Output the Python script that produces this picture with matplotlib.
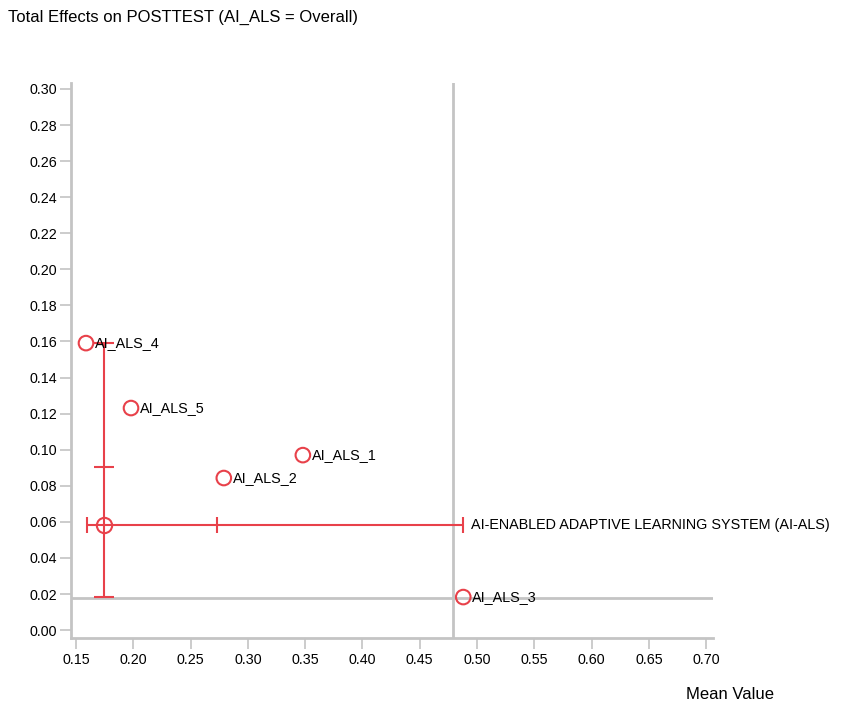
import matplotlib.pyplot as plt
import numpy as np

plt.rcParams['font.family'] = ['Liberation Sans', 'DejaVu Sans']

# indicator importance (x = mean value, y = total effect)
labels = ['AI_ALS_1', 'AI_ALS_2', 'AI_ALS_3', 'AI_ALS_4', 'AI_ALS_5']
mean_vals = [0.348, 0.279, 0.488, 0.1587, 0.198]
effects = [0.097, 0.0843, 0.0183, 0.1591, 0.1231]

# construct summary
construct = 'AI-ENABLED ADAPTIVE LEARNING SYSTEM (AI-ALS)'
c_x, c_y = 0.1744, 0.0582
x_range = [0.1596, 0.488]
x_mid = 0.273
y_range = [0.0183, 0.159]
y_mid = 0.0904

# reference lines
ref_x = 0.479
ref_y = 0.0177

red = '#e8414a'
gray = '#c4c4c4'

fig = plt.figure(figsize=(8.43, 7.06), dpi=100)
ax = fig.add_axes([0.0842, 0.0963, 0.7616, 0.7861])

ax.set_xlim(0.1456, 0.706)
ax.set_ylim(-0.0044, 0.3033)

ax.axvline(ref_x, color=gray, lw=2, zorder=1)
ax.axhline(ref_y, color=gray, lw=2, zorder=1)

# construct error bars
ax.errorbar([c_x], [c_y],
            xerr=[[c_x - x_range[0]], [x_range[1] - c_x]],
            fmt='none', ecolor=red, elinewidth=1.5, capsize=6, capthick=1.5, zorder=3)
ax.errorbar([c_x], [c_y],
            yerr=[[c_y - y_range[0]], [y_range[1] - c_y]],
            fmt='none', ecolor=red, elinewidth=1.5, capsize=7, capthick=1.5, zorder=3)
ax.plot([x_mid], [c_y], marker='|', ms=12, mew=1.5, color=red, zorder=3)
ax.plot([c_x], [y_mid], marker='_', ms=14, mew=1.5, color=red, zorder=3)
ax.plot([c_x], [c_y], marker='o', ms=11, mfc='none', mec=red, mew=1.5, zorder=4)
ax.text(x_range[1] + 0.007, c_y, construct, fontsize=10.4, va='center', ha='left')

ax.scatter(mean_vals, effects, s=110, facecolors='none', edgecolors=red,
           linewidths=1.5, zorder=5)
for lab, x, y in zip(labels, mean_vals, effects):
    ax.text(x + 0.008, y, lab, fontsize=10.4, va='center', ha='left', zorder=6)

ax.set_xticks(np.arange(0.15, 0.701, 0.05))
ax.set_xticklabels(['%.2f' % v for v in np.arange(0.15, 0.701, 0.05)])
ax.set_yticks(np.arange(0.0, 0.301, 0.02))
ax.set_yticklabels(['%.2f' % v for v in np.arange(0.0, 0.301, 0.02)])

for s in ['top', 'right']:
    ax.spines[s].set_visible(False)
for s in ['left', 'bottom']:
    ax.spines[s].set_color(gray)
    ax.spines[s].set_linewidth(2)
ax.tick_params(axis='both', colors=gray, length=8, width=1.2, labelsize=10.3,
               labelcolor='black')
ax.tick_params(axis='y', pad=2)
ax.tick_params(axis='x', pad=3)

fig.text(0.0095, 0.976, 'Total Effects on POSTTEST (AI_ALS = Overall)',
         fontsize=12, va='center', ha='left')
fig.text(0.866, 0.0156, 'Mean Value', fontsize=12, va='center', ha='center')

fig.savefig('out.png', dpi=100)
